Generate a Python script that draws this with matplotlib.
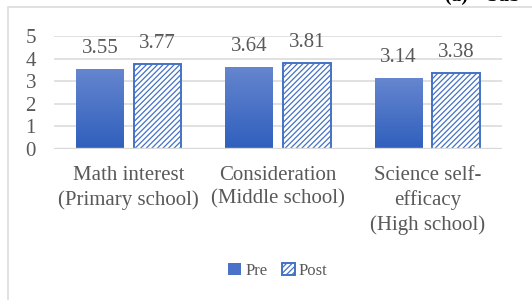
import matplotlib
matplotlib.use("Agg")
import matplotlib.pyplot as plt
import numpy as np
from matplotlib.patches import Rectangle
from matplotlib.colors import LinearSegmentedColormap

categories = ["Math interest\n(Primary school)", "Consideration\n(Middle school)",
              "Science self-\nefficacy\n(High school)"]
pre = [3.55, 3.64, 3.14]
post = [3.77, 3.81, 3.38]
yticks = [0, 1, 2, 3, 4, 5]

plt.rcParams['font.family'] = ['Liberation Serif', 'DejaVu Serif']
plt.rcParams['hatch.linewidth'] = 0.9
txt = '#595959'

fig = plt.figure(figsize=(5.32, 3.00), dpi=100)
ax = fig.add_axes([54/532, 1-149/300, 448/532, 113/300])

x = np.arange(len(categories))
w = 0.32
off = 0.193
b1 = ax.bar(x - off, pre, w, color='#4a72c8', zorder=3)
b2 = ax.bar(x + off, post, w, facecolor='white', edgecolor='#4472c4',
            hatch='//////', linewidth=1.4, zorder=3)

# gradient fill for Pre bars
cmap = LinearSegmentedColormap.from_list('g', ['#2f5fbd', '#6686cf'])
grad = np.linspace(0, 1, 256).reshape(-1, 1)
for r in b1:
    x0, y0 = r.get_x(), r.get_y()
    im = ax.imshow(grad, cmap=cmap, origin='lower', aspect='auto',
                   extent=[x0, x0 + r.get_width(), y0, y0 + r.get_height()],
                   zorder=3.5)
    im.set_clip_path(r)

for bars, vals in ((b1, pre), (b2, post)):
    for r, v in zip(bars, vals):
        ax.annotate(f"{v:.2f}", (r.get_x() + r.get_width()/2, v),
                    xytext=(0, 8), textcoords='offset points',
                    ha='center', va='bottom', fontsize=15, color=txt)

ax.set_xlim(-0.5, 2.5)
ax.set_ylim(0, 5)
ax.set_yticks(yticks)
ax.set_xticks(x)
ax.set_xticklabels(categories, fontsize=15, color=txt, linespacing=1.35)
ax.tick_params(axis='y', length=0, pad=13, labelsize=15, labelcolor=txt)
ax.tick_params(axis='x', length=0, pad=12)
ax.grid(axis='y', color='#d9d9d9', linewidth=1.1, zorder=0)
ax.axhline(0, color='#d9d9d9', linewidth=1.7, zorder=4)
for s in ax.spines.values():
    s.set_visible(False)
ax.set_facecolor('none')

leg = ax.legend([b1, b2], ['Pre', 'Post'], loc='center', frameon=False,
                ncol=2, fontsize=12, handlelength=0.75, handleheight=0.75,
                handletextpad=0.25, columnspacing=0.9, labelcolor=txt)
leg.set_bbox_to_anchor((0.5, -(271 - 149) / 113), transform=ax.transAxes)

# outer frame (partially visible)
frame = Rectangle((8/532, -0.1), 1.2, (1 - 7/300) + 0.1, transform=fig.transFigure,
                  facecolor='none', edgecolor='#d9d9d9', linewidth=1.1, zorder=0)
fig.patches.append(frame)

# cropped caption at top (cut off in the source figure too)
fig.text(445/532, 1 - 1/300, "(a)    Sub", fontsize=14, fontweight='bold',
         color='black', va='baseline', ha='left')

fig.savefig('out.png', dpi=100)
